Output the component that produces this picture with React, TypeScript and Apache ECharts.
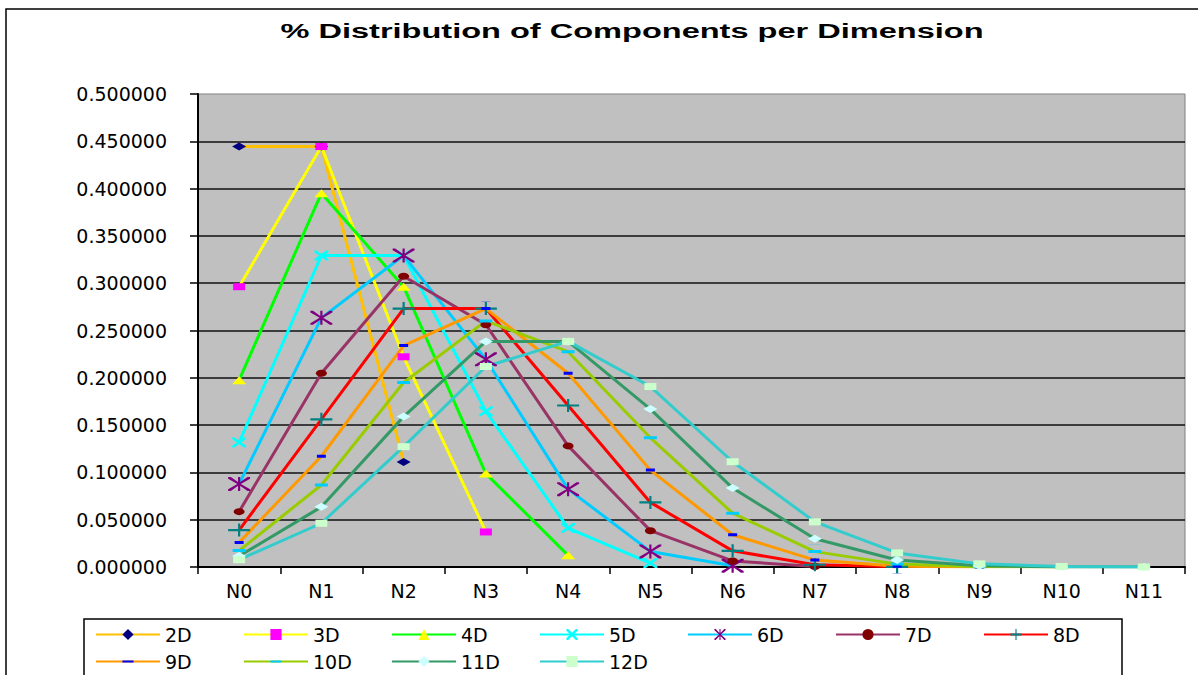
import React, { useEffect, useRef } from "react";
import * as echarts from "echarts";

const categories = ["N0", "N1", "N2", "N3", "N4", "N5", "N6", "N7", "N8", "N9", "N10", "N11"];
const yTicks = [0, 0.05, 0.1, 0.15, 0.2, 0.25, 0.3, 0.35, 0.4, 0.45, 0.5];

const d2 = [0.444444, 0.444444, 0.111111];
const d3 = [0.296296, 0.444444, 0.222222, 0.037037];
const d4 = [0.197531, 0.395062, 0.296296, 0.098765, 0.012346];
const d5 = [0.131687, 0.329218, 0.329218, 0.164609, 0.041152, 0.004115];
const d6 = [0.087791, 0.263374, 0.329218, 0.219479, 0.082305, 0.016461, 0.001372];
const d7 = [0.058528, 0.204847, 0.30727, 0.256059, 0.128029, 0.038409, 0.006401, 0.000457];
const d8 = [0.039018, 0.156074, 0.273129, 0.273129, 0.170706, 0.068282, 0.017071, 0.002439, 0.000152];
const d9 = [0.026012, 0.117055, 0.234111, 0.273129, 0.204847, 0.102423, 0.034141, 0.007316, 0.000914, 0.000051];
const d10 = [0.017342, 0.086708, 0.195092, 0.260123, 0.227608, 0.136565, 0.056902, 0.016258, 0.003048, 0.000339, 0.000017];
const d11 = [0.011561, 0.063586, 0.158965, 0.238446, 0.238446, 0.166912, 0.083456, 0.029806, 0.007452, 0.001242, 0.000124, 0.000006];
const d12 = [0.007707, 0.046244, 0.127171, 0.211952, 0.238446, 0.190757, 0.111275, 0.047689, 0.014903, 0.003312, 0.000497, 0.000045];

const seriesNames = ["2D", "3D", "4D", "5D", "6D", "7D", "8D", "9D", "10D", "11D", "12D"];
const seriesData = [d2, d3, d4, d5, d6, d7, d8, d9, d10, d11, d12];

const SYM_X = "path://M0,0 L1.6,0 L5,3.4 L8.4,0 L10,0 L10,1.6 L6.6,5 L10,8.4 L10,10 L8.4,10 L5,6.6 L1.6,10 L0,10 L0,8.4 L3.4,5 L0,1.6 Z";
const SYM_STAR = "path://M0,0 L1.2,0 L5,4.2 L8.8,0 L10,0 L10,1.2 L5.8,5 L10,8.8 L10,10 L8.8,10 L5,5.8 L1.2,10 L0,10 L0,8.8 L4.2,5 L0,1.2 Z M4.5,0 L5.5,0 L5.5,10 L4.5,10 Z";
const SYM_PLUS = "path://M4.5,0 L5.5,0 L5.5,4.2 L10,4.2 L10,5.8 L5.5,5.8 L5.5,10 L4.5,10 L4.5,5.8 L0,5.8 L0,4.2 L4.5,4.2 Z";
const SYM_ELLIPSE = "path://M0,5 A5,5 0 1,1 10,5 A5,5 0 1,1 0,5 Z";
const SYM_DASH = "path://M0,0 L10,0 L10,0.01 L0,0.01 Z M0,4 L10,4 L10,6 L0,6 Z M0,9.99 L10,9.99 L10,10 L0,10 Z";

const lineColors = ["#FFC000", "#FFFF00", "#00FF00", "#00FFFF", "#00CCFF", "#993366", "#FF0000", "#FF9900", "#99CC00", "#339966", "#33CCCC"];
const markerColors = ["#000080", "#FF00FF", "#FFFF00", "#00FFFF", "#800080", "#800000", "#008080", "#0000FF", "#00CCFF", "#CCFFFF", "#CCFFCC"];
const markerSymbols = ["diamond", "rect", "triangle", SYM_X, SYM_STAR, SYM_ELLIPSE, SYM_PLUS, SYM_DASH, SYM_DASH, "diamond", "rect"];
const markerSizes = [[14, 8], [12, 7], [14, 8], [14, 10], [22, 14], [11, 7], [22, 13], [9, 15], [13, 15], [14, 8], [12, 7]];

export default function App() {
  const ref = useRef<HTMLDivElement>(null);
  useEffect(() => {
    if (!ref.current) return;
    const chart = echarts.init(ref.current, null, { renderer: "svg" });
    const series = seriesNames.map((name, i) => ({
      name,
      type: "line",
      data: seriesData[i],
      symbol: markerSymbols[i],
      symbolSize: markerSizes[i],
      showAllSymbol: true,
      lineStyle: { color: lineColors[i], width: 3 },
      itemStyle: { color: markerColors[i], borderWidth: 0 },
      emphasis: { disabled: true },
    }));
    const legends = seriesNames.map((name, i) => {
      const row = i < 7 ? 0 : 1;
      const col = i < 7 ? i : i - 7;
      return {
        data: [name],
        left: 95 + 148 * col,
        top: row === 0 ? 625 : 652,
        padding: 0,
        itemWidth: 64,
        itemHeight: 14,
        selectedMode: false,
        lineStyle: { width: 2 },
        textStyle: { fontFamily: "DejaVu Sans", fontSize: 19, color: "#000" },
      };
    });
    chart.setOption({
      animation: false,
      grid: {
        left: 198,
        top: 94,
        width: 987,
        height: 473,
        show: true,
        backgroundColor: "#C0C0C0",
        borderColor: "#808080",
        borderWidth: 1,
      },
      xAxis: {
        type: "category",
        data: categories,
        boundaryGap: true,
        axisLine: { lineStyle: { color: "#000", width: 2 } },
        axisTick: { show: true, inside: false, length: 7, lineStyle: { color: "#000", width: 1.5 } },
        axisLabel: { margin: 14, fontFamily: "DejaVu Sans", fontSize: 19, color: "#000" },
        splitLine: { show: false },
      },
      yAxis: {
        type: "value",
        min: yTicks[0],
        max: yTicks[yTicks.length - 1],
        interval: 0.05,
        axisLine: { show: true, lineStyle: { color: "#000", width: 2 } },
        axisTick: { show: true, inside: false, length: 8, lineStyle: { color: "#000", width: 1.5 } },
        axisLabel: {
          margin: 31,
          fontFamily: "DejaVu Sans",
          fontSize: 19,
          color: "#000",
          formatter: (v: number) => v.toFixed(6),
        },
        splitLine: { show: true, showMaxLine: false, lineStyle: { color: "#111", width: 1.5 } },
      },
      legend: legends,
      graphic: [
        {
          type: "rect",
          shape: { x: 6, y: 9, width: 1400, height: 900 },
          style: { fill: "none", stroke: "#000", lineWidth: 1.5 },
          silent: true,
          z: -10,
        },
        {
          type: "rect",
          shape: { x: 84, y: 619, width: 1038, height: 200 },
          style: { fill: "none", stroke: "#000", lineWidth: 1.5 },
          silent: true,
        },
        {
          type: "text",
          x: 632,
          y: 31,
          scaleX: 1.55,
          style: {
            text: "% Distribution of Components per Dimension",
            font: 'bold 21px "Liberation Sans"',
            fill: "#000",
            align: "center",
            verticalAlign: "middle",
          },
          silent: true,
        },
      ],
      series,
    });
    return () => chart.dispose();
  }, []);
  return (
    <div
      ref={ref}
      style={{ position: "absolute", left: 0, top: 0, width: 1198, height: 675, background: "#fff" }}
    />
  );
}
